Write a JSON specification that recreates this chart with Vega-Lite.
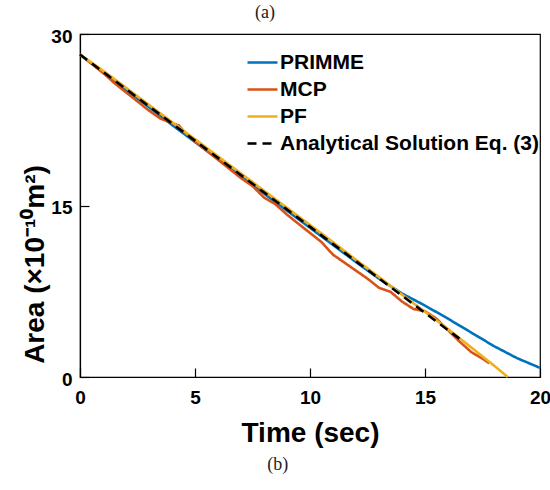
{
  "$schema": "https://vega.github.io/schema/vega-lite/v6.json",
  "autosize": {"type": "none"},
  "padding": {"left": 80, "top": 34, "right": 10, "bottom": 113},
  "width": 460,
  "height": 343,
  "background": "white",
  "config": {
    "view": {"stroke": "black", "strokeWidth": 1.2},
    "axis": {"labelFont": "Liberation Sans", "labelFontWeight": "bold", "labelFontSize": 19, "labelColor": "black", "titleFont": "Liberation Sans", "titleFontWeight": "bold", "titleFontSize": 28, "titleColor": "black", "domainColor": "black", "tickColor": "black", "grid": false, "tickSize": -9, "domainWidth": 1.2, "tickWidth": 1.2}
  },
  "datasets": {
    "curves": [
      {"series": "PRIMME", "t": 0, "area": 28.2},
      {"series": "PRIMME", "t": 1, "area": 26.65},
      {"series": "PRIMME", "t": 2, "area": 25.1},
      {"series": "PRIMME", "t": 3, "area": 23.6},
      {"series": "PRIMME", "t": 4, "area": 22.05},
      {"series": "PRIMME", "t": 5, "area": 20.55},
      {"series": "PRIMME", "t": 6, "area": 19.05},
      {"series": "PRIMME", "t": 7, "area": 17.55},
      {"series": "PRIMME", "t": 8, "area": 16.05},
      {"series": "PRIMME", "t": 9, "area": 14.55},
      {"series": "PRIMME", "t": 10, "area": 13.05},
      {"series": "PRIMME", "t": 11, "area": 11.55},
      {"series": "PRIMME", "t": 12, "area": 10.05},
      {"series": "PRIMME", "t": 13, "area": 8.6},
      {"series": "PRIMME", "t": 14, "area": 7.3},
      {"series": "PRIMME", "t": 15, "area": 6.25},
      {"series": "PRIMME", "t": 16, "area": 5.1},
      {"series": "PRIMME", "t": 17, "area": 3.9},
      {"series": "PRIMME", "t": 18, "area": 2.7},
      {"series": "PRIMME", "t": 19, "area": 1.65},
      {"series": "PRIMME", "t": 20, "area": 0.8},
      {"series": "MCP", "t": 0, "area": 28.2},
      {"series": "MCP", "t": 0.5, "area": 27.4},
      {"series": "MCP", "t": 1.0, "area": 26.6},
      {"series": "MCP", "t": 1.5, "area": 25.7},
      {"series": "MCP", "t": 2.0, "area": 24.9},
      {"series": "MCP", "t": 2.5, "area": 24.1},
      {"series": "MCP", "t": 3.0, "area": 23.3},
      {"series": "MCP", "t": 3.5, "area": 22.6},
      {"series": "MCP", "t": 4.0, "area": 22.2},
      {"series": "MCP", "t": 4.3, "area": 22.0},
      {"series": "MCP", "t": 4.6, "area": 21.3},
      {"series": "MCP", "t": 5.0, "area": 20.6},
      {"series": "MCP", "t": 5.5, "area": 19.8},
      {"series": "MCP", "t": 6.0, "area": 19.0},
      {"series": "MCP", "t": 6.5, "area": 18.2},
      {"series": "MCP", "t": 7.0, "area": 17.4},
      {"series": "MCP", "t": 7.5, "area": 16.7},
      {"series": "MCP", "t": 8.0, "area": 15.7},
      {"series": "MCP", "t": 8.5, "area": 15.1},
      {"series": "MCP", "t": 9.0, "area": 14.2},
      {"series": "MCP", "t": 9.5, "area": 13.4},
      {"series": "MCP", "t": 10.0, "area": 12.6},
      {"series": "MCP", "t": 10.5, "area": 11.8},
      {"series": "MCP", "t": 11.0, "area": 10.7},
      {"series": "MCP", "t": 11.5, "area": 10.0},
      {"series": "MCP", "t": 12.0, "area": 9.3},
      {"series": "MCP", "t": 12.5, "area": 8.6},
      {"series": "MCP", "t": 13.0, "area": 7.8},
      {"series": "MCP", "t": 13.5, "area": 7.45},
      {"series": "MCP", "t": 14.0, "area": 6.6},
      {"series": "MCP", "t": 14.5, "area": 5.95},
      {"series": "MCP", "t": 15.0, "area": 5.75},
      {"series": "MCP", "t": 15.5, "area": 5.1},
      {"series": "MCP", "t": 16.0, "area": 4.1},
      {"series": "MCP", "t": 16.5, "area": 3.1},
      {"series": "MCP", "t": 17.0, "area": 2.2},
      {"series": "MCP", "t": 17.5, "area": 1.6},
      {"series": "MCP", "t": 17.8, "area": 1.2},
      {"series": "PF", "t": 0, "area": 28.2},
      {"series": "PF", "t": 1, "area": 26.8},
      {"series": "PF", "t": 2, "area": 25.3},
      {"series": "PF", "t": 3, "area": 23.8},
      {"series": "PF", "t": 4, "area": 22.3},
      {"series": "PF", "t": 5, "area": 20.8},
      {"series": "PF", "t": 6, "area": 19.3},
      {"series": "PF", "t": 7, "area": 17.8},
      {"series": "PF", "t": 8, "area": 16.3},
      {"series": "PF", "t": 9, "area": 14.8},
      {"series": "PF", "t": 10, "area": 13.3},
      {"series": "PF", "t": 11, "area": 11.8},
      {"series": "PF", "t": 12, "area": 10.25},
      {"series": "PF", "t": 13, "area": 8.75},
      {"series": "PF", "t": 14, "area": 7.2},
      {"series": "PF", "t": 15, "area": 5.7},
      {"series": "PF", "t": 16, "area": 4.2},
      {"series": "PF", "t": 17, "area": 2.6},
      {"series": "PF", "t": 18, "area": 1.0},
      {"series": "PF", "t": 18.6, "area": 0},
      {"series": "Analytical Solution Eq. (3)", "t": 0, "area": 28.2},
      {"series": "Analytical Solution Eq. (3)", "t": 16.5, "area": 3.35}
    ],
    "captions": [
      {"label": "(a)", "t": 8.04, "area": 31.8},
      {"label": "(b)", "t": 8.6, "area": -7.7}
    ]
  },
  "layer": [
    {
      "data": {"name": "curves"},
      "mark": {"type": "line", "strokeWidth": 2.6},
      "encoding": {
        "x": {"field": "t", "type": "quantitative", "scale": {"domain": [0, 20], "nice": false}, "axis": {"values": [0, 5, 10, 15, 20], "title": "Time (sec)", "labelPadding": 20, "titleY": 64, "titleBaseline": "alphabetic", "labelFlush": false}},
        "y": {"field": "area", "type": "quantitative", "scale": {"domain": [0, 30], "nice": false}, "axis": {"values": [0, 15, 30], "title": "Area (×10⁻¹⁰m²)", "labelPadding": 17, "titleX": -37, "titleY": 230, "titleBaseline": "alphabetic", "labelFlush": false, "labelOffset": 2}},
        "color": {"field": "series", "type": "nominal", "sort": ["PRIMME", "MCP", "PF", "Analytical Solution Eq. (3)"], "scale": {"domain": ["PRIMME", "MCP", "PF", "Analytical Solution Eq. (3)"], "range": ["#0072BD", "#D95319", "#EDB120", "#000000"]}, "legend": {"title": null, "orient": "none", "legendX": 172, "legendY": 18, "symbolType": "M-3,0H3", "symbolSize": 100, "symbolStrokeWidth": 2.6, "labelFont": "Liberation Sans", "labelFontWeight": "bold", "labelFontSize": 21, "labelColor": "black", "labelOffset": 7, "labelLimit": 400, "rowPadding": 5, "padding": 0}},
        "strokeDash": {"field": "series", "type": "nominal", "sort": ["PRIMME", "MCP", "PF", "Analytical Solution Eq. (3)"], "scale": {"domain": ["PRIMME", "MCP", "PF", "Analytical Solution Eq. (3)"], "range": [[1, 0], [1, 0], [1, 0], [9, 6]]}},
        "order": {"field": "t", "type": "quantitative"}
      }
    },
    {
      "data": {"name": "captions"},
      "mark": {"type": "text", "font": "Liberation Serif", "fontSize": 18, "color": "#222", "baseline": "middle", "align": "center"},
      "encoding": {
        "x": {"field": "t", "type": "quantitative"},
        "y": {"field": "area", "type": "quantitative"},
        "text": {"field": "label"}
      }
    }
  ]
}
